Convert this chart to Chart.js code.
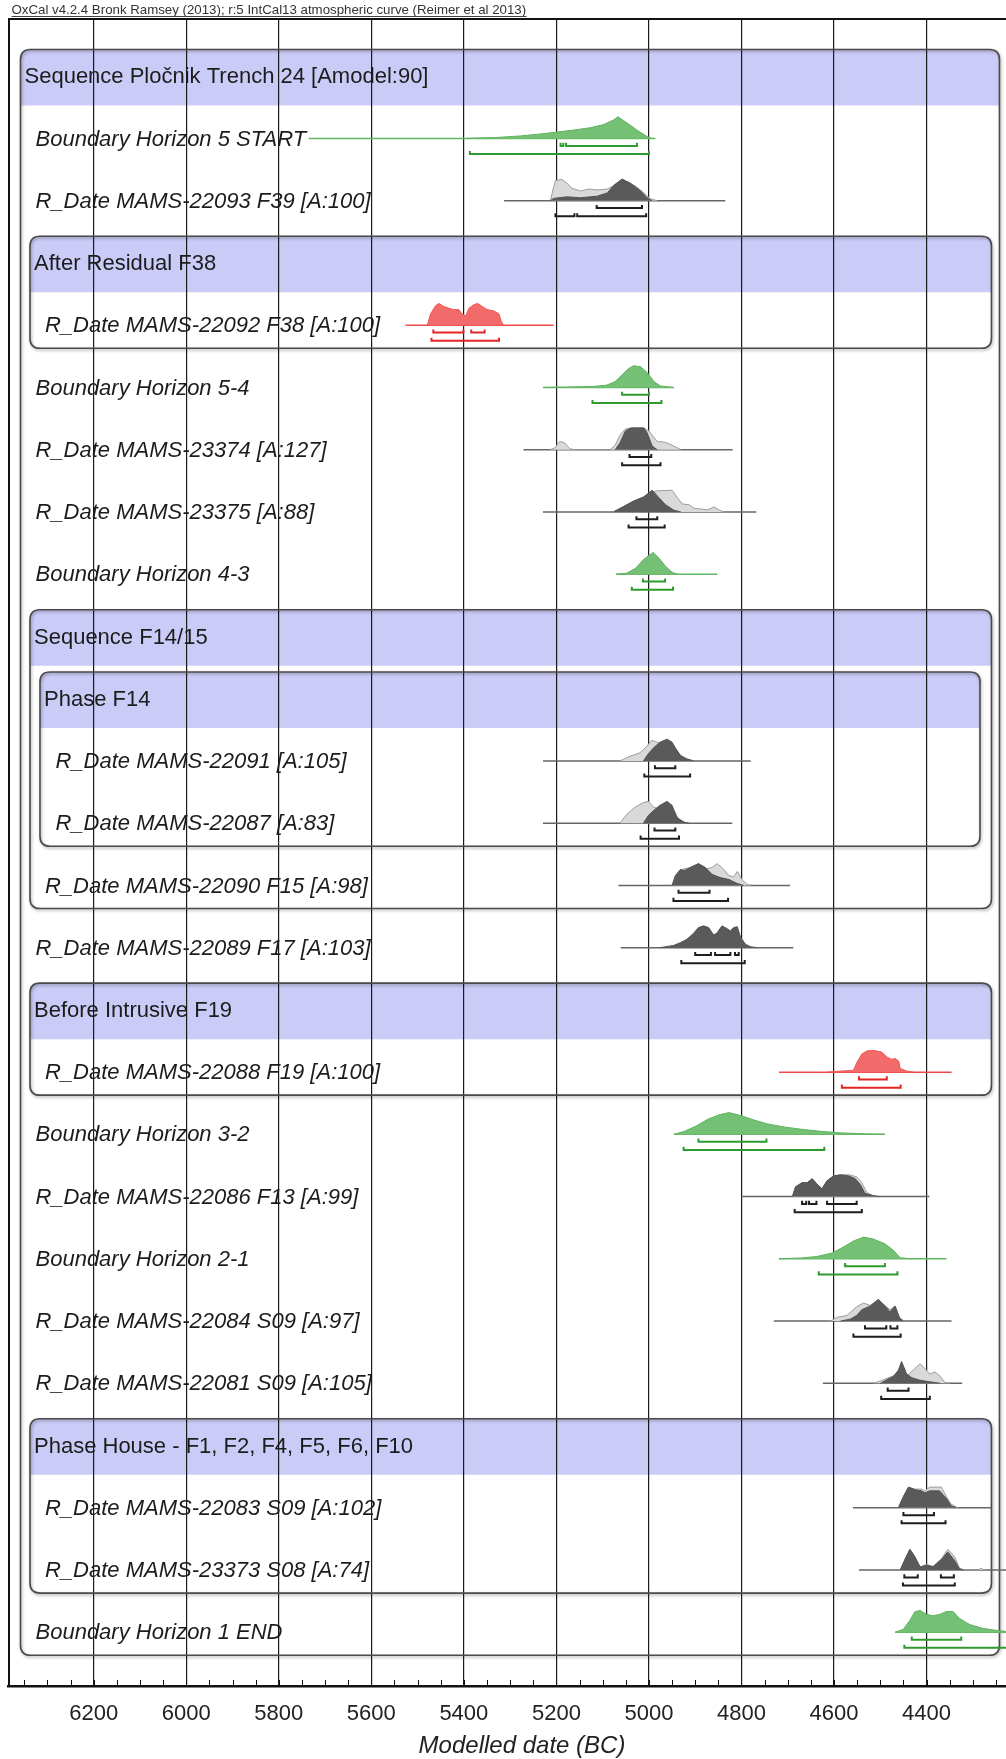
<!DOCTYPE html>
<html>
<head>
<meta charset="utf-8">
<script src="https://cdn.jsdelivr.net/npm/chart.js@4/dist/chart.umd.min.js"></script>
<style>
  html,body{margin:0;padding:0;background:#fff;}
  canvas{display:block;}
</style>
</head>
<body>
<canvas id="c" width="1006" height="1759"></canvas>
<script>
// ---------------- DATA ----------------
const noteText = "OxCal v4.2.4 Bronk Ramsey (2013); r:5 IntCal13 atmospheric curve (Reimer et al 2013)";
const axisTitle = "Modelled date (BC)";
const tickYears = [6200, 6000, 5800, 5600, 5400, 5200, 5000, 4800, 4600, 4400];

const rowLabels = [
  "Sequence Pločnik Trench 24 [Amodel:90]",
  "Boundary Horizon 5 START",
  "R_Date MAMS-22093 F39 [A:100]",
  "After Residual F38",
  "R_Date MAMS-22092 F38 [A:100]",
  "Boundary Horizon 5-4",
  "R_Date MAMS-23374 [A:127]",
  "R_Date MAMS-23375 [A:88]",
  "Boundary Horizon 4-3",
  "Sequence F14/15",
  "Phase F14",
  "R_Date MAMS-22091 [A:105]",
  "R_Date MAMS-22087 [A:83]",
  "R_Date MAMS-22090 F15 [A:98]",
  "R_Date MAMS-22089 F17 [A:103]",
  "Before Intrusive F19",
  "R_Date MAMS-22088 F19 [A:100]",
  "Boundary Horizon 3-2",
  "R_Date MAMS-22086 F13 [A:99]",
  "Boundary Horizon 2-1",
  "R_Date MAMS-22084 S09 [A:97]",
  "R_Date MAMS-22081 S09 [A:105]",
  "Phase House - F1, F2, F4, F5, F6, F10",
  "R_Date MAMS-22083 S09 [A:102]",
  "R_Date MAMS-23373 S08 [A:74]",
  "Boundary Horizon 1 END"
];
const headerRows = [0, 3, 9, 10, 15, 22];
const rowLevel = [1,1,1,2,2,1,1,1,1,2,3,3,3,2,1,2,2,1,1,1,1,1,2,2,2,1];
// [nesting level, header row, last row]
const groups = [[1,0,25],[2,3,4],[2,9,13],[3,10,12],[2,15,16],[2,22,24]];

// distributions: [year BC, relative probability]
const B5START = [[5400,0],[5378,0.02],[5328,0.05],[5278,0.12],[5234,0.21],[5198,0.30],[5162,0.39],[5126,0.50],[5098,0.64],[5076,0.86],[5067,1.0],[5047,0.71],[5026,0.39],[5004,0.09],[4993,0]];
const B5START_line = [5735, 4986];
const B5START_68 = [[5191,5185],[5179,5026]];
const B5START_95 = [[5387,5000]];

const M22093_lik = [[5213,0],[5207,0.54],[5202,0.93],[5188,0.98],[5177,0.80],[5166,0.57],[5148,0.45],[5130,0.54],[5112,0.50],[5090,0.54],[5076,0.68],[5058,0.93],[5044,0.86],[5026,0.63],[5011,0.36],[4997,0.09],[4982,0]];
const M22093_post = [[5213,0],[5206,0.11],[5177,0.18],[5148,0.14],[5112,0.21],[5090,0.36],[5076,0.71],[5058,1.0],[5040,0.80],[5018,0.45],[5004,0.14],[4993,0]];
const M22093_line = [5313, 4835];
const M22093_68 = [[5113,5015]];
const M22093_95 = [[5202,5161],[5155,5006]];

const M22092 = [[5479,0],[5472,0.52],[5461,0.90],[5454,1.0],[5443,0.86],[5432,0.78],[5422,0.72],[5411,0.72],[5404,0.52],[5396,0.43],[5389,0.78],[5378,0.95],[5370,1.0],[5360,0.86],[5350,0.72],[5335,0.66],[5324,0.52],[5319,0.17],[5314,0]];
const M22092_line = [5526, 5206];
const M22092_68 = [[5466,5401],[5384,5355]];
const M22092_95 = [[5470,5324]];

const B54 = [[5229,0],[5178,0.02],[5120,0.05],[5091,0.11],[5073,0.27],[5058,0.58],[5044,0.87],[5033,1.0],[5018,0.95],[5004,0.69],[4989,0.27],[4975,0.07],[4946,0]];
const B54_line = [5229, 4946];
const B54_68 = [[5058,5000]];
const B54_95 = [[5122,4973]];

const M23374_lik = [[5215,0],[5204,0.07],[5193,0.38],[5182,0.31],[5171,0.05],[5160,0],[5084,0],[5073,0.21],[5062,0.69],[5051,0.95],[5033,1.0],[5011,1.0],[5000,0.86],[4982,0.38],[4964,0.34],[4946,0.17],[4931,0]];
const M23374_post = [[5073,0],[5062,0.34],[5051,0.86],[5040,1.0],[5011,1.0],[5004,0.78],[4993,0.17],[4982,0]];
const M23374_line = [5271, 4819];
const M23374_68 = [[5042,4995]];
const M23374_95 = [[5058,4975]];

const M23375_lik = [[5077,0],[5055,0.25],[5033,0.50],[5011,0.67],[4993,0.92],[4982,0.97],[4950,1.0],[4939,0.67],[4928,0.37],[4913,0.33],[4902,0.17],[4873,0.10],[4859,0.23],[4848,0.08],[4837,0]];
const M23375_post = [[5077,0],[5055,0.25],[5033,0.50],[5011,0.70],[4993,1.0],[4979,0.67],[4964,0.33],[4946,0.08],[4931,0]];
const M23375_line = [5229, 4768];
const M23375_68 = [[5027,4982]];
const M23375_95 = [[5044,4966]];

const B43 = [[5071,0],[5048,0.05],[5029,0.27],[5011,0.69],[4991,1.0],[4979,0.76],[4964,0.36],[4950,0.09],[4939,0]];
const B43_line = [5071, 4852];
const B43_68 = [[5013,4965]];
const B43_95 = [[5037,4948]];

const M22091_lik = [[5063,0],[5041,0.21],[5019,0.38],[5005,0.66],[4994,0.95],[4983,0.86],[4969,0.78],[4950,0.78],[4940,0.34],[4925,0.14],[4903,0]];
const M22091_post = [[5012,0],[5001,0.34],[4990,0.60],[4976,0.86],[4961,1.0],[4950,0.86],[4943,0.60],[4932,0.26],[4918,0.09],[4903,0]];
const M22091_line = [5229, 4780];
const M22091_68 = [[4987,4943]];
const M22091_95 = [[5010,4911]];

const M22087_lik = [[5063,0],[5048,0.40],[5030,0.73],[5012,0.95],[5001,1.0],[4990,0.73],[4976,0.64],[4961,0.87],[4947,0.64],[4936,0.18],[4918,0]];
const M22087_post = [[5012,0],[5001,0.36],[4990,0.58],[4976,0.82],[4961,1.0],[4950,0.82],[4940,0.27],[4925,0.05],[4914,0]];
const M22087_line = [5229, 4820];
const M22087_68 = [[4988,4943]];
const M22087_95 = [[5018,4935]];

const M22090_lik = [[4950,0],[4940,0.45],[4925,0.76],[4911,0.82],[4893,1.0],[4875,0.76],[4864,0.82],[4853,1.0],[4842,0.82],[4827,0.45],[4817,0.40],[4809,0.64],[4799,0.27],[4788,0.05],[4780,0]];
const M22090_post = [[4950,0],[4943,0.45],[4932,0.73],[4922,0.69],[4911,0.82],[4893,1.0],[4878,0.82],[4864,0.51],[4846,0.36],[4827,0.27],[4809,0.09],[4795,0]];
const M22090_line = [5066, 4695];
const M22090_68 = [[4936,4869]];
const M22090_95 = [[4947,4829]];

const M22089_post = [[4976,0],[4947,0.10],[4932,0.23],[4918,0.38],[4903,0.67],[4893,0.92],[4882,1.0],[4871,0.92],[4860,0.58],[4853,0.67],[4842,1.0],[4831,0.87],[4824,0.77],[4817,0.92],[4809,0.96],[4802,0.48],[4791,0.15],[4780,0.04],[4766,0]];
const M22089_line = [5061, 4688];
const M22089_68 = [[4900,4866],[4857,4824],[4814,4806]];
const M22089_95 = [[4930,4793]];

const M22088 = [[4615,0],[4586,0.05],[4558,0.08],[4551,0.42],[4540,0.83],[4529,0.97],[4515,1.0],[4497,0.92],[4486,0.70],[4475,0.58],[4468,0.63],[4460,0.50],[4457,0.17],[4443,0.05],[4429,0]];
const M22088_line = [4719, 4346];
const M22088_68 = [[4546,4486]];
const M22088_95 = [[4583,4456]];

const B32 = [[4946,0],[4923,0.14],[4898,0.38],[4873,0.69],[4848,0.90],[4827,1.0],[4801,0.86],[4773,0.66],[4744,0.48],[4708,0.34],[4672,0.24],[4629,0.14],[4586,0.07],[4529,0.02],[4490,0]];
const B32_line = [4946, 4490];
const B32_68 = [[4893,4746]];
const B32_95 = [[4925,4621]];

const M22086_lik = [[4690,0],[4683,0.45],[4669,0.64],[4658,0.64],[4647,0.82],[4637,0.58],[4626,0.36],[4615,0.73],[4601,0.95],[4586,1.0],[4568,1.0],[4551,0.91],[4540,0.64],[4529,0.18],[4515,0.05],[4501,0]];
const M22086_post = [[4690,0],[4683,0.45],[4669,0.64],[4658,0.64],[4647,0.82],[4637,0.58],[4626,0.36],[4615,0.73],[4601,0.95],[4586,1.0],[4568,0.95],[4554,0.82],[4543,0.55],[4533,0.15],[4515,0.04],[4501,0]];
const M22086_line = [4800, 4394];
const M22086_68 = [[4669,4660],[4654,4638],[4615,4551]];
const M22086_95 = [[4685,4540]];

const B21 = [[4719,0],[4672,0.04],[4637,0.11],[4604,0.27],[4579,0.55],[4558,0.82],[4536,1.0],[4515,0.91],[4490,0.69],[4472,0.40],[4457,0.05],[4429,0]];
const B21_line = [4719, 4357];
const B21_68 = [[4576,4490]];
const B21_95 = [[4633,4463]];

const M22084_lik = [[4608,0],[4594,0.17],[4572,0.26],[4551,0.66],[4536,0.83],[4522,0.72],[4504,0.95],[4490,0.72],[4479,0.52],[4468,0.69],[4457,0.09],[4447,0]];
const M22084_post = [[4586,0],[4565,0.09],[4551,0.26],[4540,0.52],[4522,0.69],[4504,1.0],[4490,0.69],[4479,0.43],[4468,0.69],[4459,0.17],[4450,0]];
const M22084_line = [4730, 4346];
const M22084_68 = [[4533,4487],[4478,4463]];
const M22084_95 = [[4558,4456]];

const M22081_lik = [[4515,0],[4493,0.17],[4472,0.34],[4461,0.43],[4454,0.95],[4443,0.34],[4429,0.60],[4414,0.90],[4404,0.69],[4393,0.43],[4382,0.52],[4371,0.34],[4361,0.05],[4350,0]];
const M22081_post = [[4500,0],[4486,0.17],[4472,0.31],[4461,0.60],[4454,1.0],[4443,0.43],[4432,0.26],[4414,0.14],[4393,0.07],[4371,0]];
const M22081_line = [4624, 4323];
const M22081_68 = [[4484,4439]];
const M22081_95 = [[4498,4393]];

const M22083_lik = [[4461,0],[4450,0.52],[4439,0.95],[4425,0.86],[4411,0.86],[4404,0.78],[4393,0.95],[4368,0.95],[4357,0.52],[4347,0.17],[4332,0]];
const M22083_post = [[4461,0],[4450,0.52],[4439,0.95],[4425,0.83],[4411,0.78],[4404,0.69],[4393,0.78],[4372,0.78],[4357,0.43],[4347,0.09],[4336,0]];
const M22083_line = [4559, 4261];
const M22083_68 = [[4450,4384]];
const M22083_95 = [[4454,4359]];

const M23373_lik = [[4457,0],[4446,0.52],[4436,0.95],[4425,0.60],[4414,0.14],[4400,0.26],[4386,0.17],[4368,0.52],[4354,0.95],[4339,0.60],[4329,0.09],[4318,0],[4290,0],[4282,0.08],[4275,0]];
const M23373_post = [[4457,0],[4446,0.52],[4436,0.95],[4425,0.60],[4414,0.14],[4400,0.22],[4386,0.15],[4368,0.48],[4354,0.83],[4339,0.43],[4329,0.05],[4320,0]];
const M23373_line = [4546, 4200];
const M23373_68 = [[4448,4419],[4369,4341]];
const M23373_95 = [[4451,4339]];

const B1END = [[4468,0],[4450,0.14],[4436,0.55],[4425,0.95],[4414,1.0],[4400,0.82],[4386,0.76],[4372,0.82],[4357,0.95],[4343,0.96],[4329,0.64],[4307,0.36],[4279,0.18],[4250,0.09],[4229,0.04],[4200,0.02],[4190,0]];
const B1END_line = [4468, 4190];
const B1END_68 = [[4432,4325]];
const B1END_95 = [[4448,4190]];

// ---------------- TABLE built from arrays ----------------
const rows = [
  {row:1,  kind:'boundary', line:B5START_line, main:B5START, r68:B5START_68, r95:B5START_95},
  {row:2,  kind:'date', line:M22093_line, lik:M22093_lik, main:M22093_post, r68:M22093_68, r95:M22093_95},
  {row:4,  kind:'outlier', line:M22092_line, main:M22092, r68:M22092_68, r95:M22092_95},
  {row:5,  kind:'boundary', line:B54_line, main:B54, r68:B54_68, r95:B54_95},
  {row:6,  kind:'date', line:M23374_line, lik:M23374_lik, main:M23374_post, r68:M23374_68, r95:M23374_95},
  {row:7,  kind:'date', line:M23375_line, lik:M23375_lik, main:M23375_post, r68:M23375_68, r95:M23375_95},
  {row:8,  kind:'boundary', line:B43_line, main:B43, r68:B43_68, r95:B43_95},
  {row:11, kind:'date', line:M22091_line, lik:M22091_lik, main:M22091_post, r68:M22091_68, r95:M22091_95},
  {row:12, kind:'date', line:M22087_line, lik:M22087_lik, main:M22087_post, r68:M22087_68, r95:M22087_95},
  {row:13, kind:'date', line:M22090_line, lik:M22090_lik, main:M22090_post, r68:M22090_68, r95:M22090_95},
  {row:14, kind:'date', line:M22089_line, main:M22089_post, r68:M22089_68, r95:M22089_95},
  {row:16, kind:'outlier', line:M22088_line, main:M22088, r68:M22088_68, r95:M22088_95},
  {row:17, kind:'boundary', line:B32_line, main:B32, r68:B32_68, r95:B32_95},
  {row:18, kind:'date', line:M22086_line, lik:M22086_lik, main:M22086_post, r68:M22086_68, r95:M22086_95},
  {row:19, kind:'boundary', line:B21_line, main:B21, r68:B21_68, r95:B21_95},
  {row:20, kind:'date', line:M22084_line, lik:M22084_lik, main:M22084_post, r68:M22084_68, r95:M22084_95},
  {row:21, kind:'date', line:M22081_line, lik:M22081_lik, main:M22081_post, r68:M22081_68, r95:M22081_95},
  {row:23, kind:'date', line:M22083_line, lik:M22083_lik, main:M22083_post, r68:M22083_68, r95:M22083_95},
  {row:24, kind:'date', line:M23373_line, lik:M23373_lik, main:M23373_post, r68:M23373_68, r95:M23373_95},
  {row:25, kind:'boundary', line:B1END_line, main:B1END, r68:B1END_68, r95:B1END_95}
];

// ---------------- STYLES ----------------
const FONT = '"Liberation Sans", Arial, Helvetica, sans-serif';
const PEAK = 0.35;          // peak height in row units
const OFF68 = 0.118, OFF95 = 0.25, TICK = 0.05;
const styles = {
  boundary: {fill:'#74c074', border:'#5fb35f', line:'#63b763', br:'#2f9a2f'},
  outlier:  {fill:'#f36a6a', border:'#ef5656', line:'#ef4a4a', br:'#e52525'},
  date:     {fill:'#5a5a5a', border:'#535353', line:'#666666', br:'#1e1e1e', likFill:'#d9d9d9', likBorder:'#9c9c9c'}
};
const BAND = '#cbcbf7';
const boxLeft = {1:20.5, 2:30, 3:40};
const boxRight = {1:999.5, 2:991.5, 3:980};
const headerX = {1:24.5, 2:34, 3:44};
const labelX = {1:35.5, 2:45, 3:55.5};

// ---------------- DATASETS ----------------
const datasets = [];
function pts(arr, row) { return arr.map(([yr, p]) => ({x: yr, y: row - p * PEAK})); }
rows.forEach(r => {
  const st = styles[r.kind];
  datasets.push({data:[{x:r.line[0], y:r.row},{x:r.line[1], y:r.row}], borderColor: st.line, borderWidth:1.5, fill:false, order:5});
  if (r.lik) datasets.push({data: pts(r.lik, r.row), borderColor: st.likBorder, borderWidth:1, backgroundColor: st.likFill, fill:{value:r.row}, order:4});
  datasets.push({data: pts(r.main, r.row), borderColor: st.border, borderWidth:1, backgroundColor: st.fill, fill:{value:r.row}, order:3});
  [[r.r68, OFF68], [r.r95, OFF95]].forEach(([segs, off]) => {
    segs.forEach(([a, b]) => {
      datasets.push({data:[{x:a,y:r.row+off-TICK},{x:a,y:r.row+off},{x:b,y:r.row+off},{x:b,y:r.row+off-TICK}],
        borderColor: st.br, borderWidth:2, fill:false, order:1, borderJoinStyle:'miter'});
    });
  });
});

// ---------------- PLUGIN ----------------
function rrect(ctx, x, y, w, h, r) {
  const [tl, tr, br, bl] = r;
  ctx.beginPath();
  ctx.moveTo(x + tl, y);
  ctx.lineTo(x + w - tr, y); ctx.quadraticCurveTo(x + w, y, x + w, y + tr);
  ctx.lineTo(x + w, y + h - br); ctx.quadraticCurveTo(x + w, y + h, x + w - br, y + h);
  ctx.lineTo(x + bl, y + h); ctx.quadraticCurveTo(x, y + h, x, y + h - bl);
  ctx.lineTo(x, y + tl); ctx.quadraticCurveTo(x, y, x + tl, y);
  ctx.closePath();
}
const overlay = {
  id: 'overlay',
  beforeDraw(chart) {
    const ctx = chart.ctx, ys = chart.scales.y;
    ctx.save();
    groups.forEach(([lvl, hr]) => {
      const L = boxLeft[lvl], R = boxRight[lvl];
      const T = ys.getPixelForValue(hr - 0.43), BB = ys.getPixelForValue(hr + 0.47);
      ctx.fillStyle = BAND;
      rrect(ctx, L, T, R - L, BB - T, [10, 10, 0, 0]);
      ctx.fill();
    });
    ctx.restore();
  },
  beforeDatasetsDraw(chart) {
    const ctx = chart.ctx, ys = chart.scales.y;
    ctx.save();
    groups.forEach(([lvl, hr, lr]) => {
      const L = boxLeft[lvl], R = boxRight[lvl];
      const T = ys.getPixelForValue(hr - 0.43), B = ys.getPixelForValue(lr + 0.37);
      ctx.shadowColor = 'rgba(0,0,0,0.35)'; ctx.shadowBlur = 3; ctx.shadowOffsetX = 1; ctx.shadowOffsetY = 1.5;
      ctx.strokeStyle = '#4a4a4a'; ctx.lineWidth = 1.6;
      rrect(ctx, L, T, R - L, B - T, [10, 10, 10, 10]);
      ctx.stroke();
    });
    ctx.restore();
  },
  afterDraw(chart) {
    const ctx = chart.ctx, xs = chart.scales.x, ys = chart.scales.y, ca = chart.chartArea;
    ctx.save();
    // labels
    ctx.textBaseline = 'middle';
    ctx.fillStyle = '#1c1c1c';
    rowLabels.forEach((t, i) => {
      const y = ys.getPixelForValue(i) + 1;
      if (headerRows.includes(i)) {
        ctx.font = '22px ' + FONT;
        ctx.fillText(t, headerX[rowLevel[i]], y);
      } else {
        ctx.font = 'italic 22px ' + FONT;
        ctx.fillText(t, labelX[rowLevel[i]], y);
      }
    });
    // frame: top and left
    ctx.strokeStyle = '#111';
    ctx.lineWidth = 2;
    ctx.beginPath(); ctx.moveTo(ca.left, ca.top); ctx.lineTo(ca.right, ca.top); ctx.stroke();
    ctx.beginPath(); ctx.moveTo(ca.left + 1, ca.top); ctx.lineTo(ca.left + 1, ca.bottom); ctx.stroke();
    // minor ticks
    ctx.lineWidth = 1;
    for (let yr = 4250; yr <= 6350; yr += 50) {
      const x = Math.round(xs.getPixelForValue(yr)) + 0.5;
      if (x < ca.left || x > ca.right) continue;
      ctx.beginPath(); ctx.moveTo(x, ca.bottom); ctx.lineTo(x, ca.bottom - 6); ctx.stroke();
    }
    // axis title
    ctx.font = 'italic 24px ' + FONT;
    ctx.textAlign = 'center';
    ctx.fillStyle = '#222';
    ctx.fillText(axisTitle, 522, 1746);
    // top note (underlined)
    ctx.textAlign = 'left';
    ctx.font = '12px ' + FONT;
    const w12 = ctx.measureText(noteText).width;
    const fs = 12 * 515 / w12;
    ctx.font = fs.toFixed(2) + 'px ' + FONT;
    ctx.fillStyle = '#333';
    ctx.fillText(noteText, 11.5, 10);
    ctx.strokeStyle = '#444'; ctx.lineWidth = 1;
    ctx.beginPath(); ctx.moveTo(11.5, 16.5); ctx.lineTo(11.5 + 515, 16.5); ctx.stroke();
    ctx.restore();
  }
};

// ---------------- CHART ----------------
new Chart(document.getElementById('c'), {
  type: 'line',
  data: { datasets },
  options: {
    responsive: false,
    animation: false,
    devicePixelRatio: 1,
    layout: { padding: { left: 8, top: 19, right: 0, bottom: 0 } },
    elements: { point: { radius: 0 }, line: { tension: 0 } },
    plugins: { legend: { display: false }, tooltip: { enabled: false } },
    scales: {
      x: {
        type: 'linear', reverse: true, min: 4228.3, max: 6385.2, position: 'bottom',
        afterBuildTicks: (axis) => { axis.ticks = tickYears.map(v => ({ value: v })); },
        afterFit: (axis) => { axis.height = 73; },
        ticks: { callback: (v) => String(v), font: { size: 22, family: FONT }, color: '#222', padding: 15, maxRotation: 0, autoSkip: false },
        grid: { color: '#1a1a1a', lineWidth: 1.2, drawTicks: false },
        border: { display: true, color: '#111', width: 2.5 }
      },
      y: {
        type: 'linear', reverse: true, min: -0.9206, max: 25.863, display: false
      }
    }
  },
  plugins: [overlay]
});
</script>
</body>
</html>
